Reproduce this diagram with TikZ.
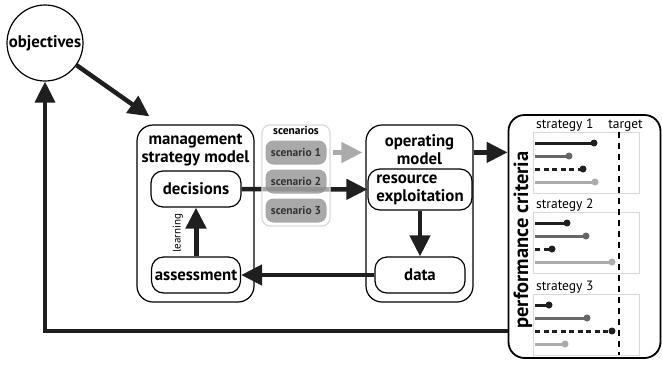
\documentclass[tikz,border=0pt]{standalone}
\usepackage{fontspec}
\setmainfont{PT Sans}
\usetikzlibrary{positioning}
\usetikzlibrary{calc}
\usetikzlibrary{arrows.meta}
\colorlet{line colour}{black!88}
\colorlet{scenario colour}{black!45}
\colorlet{frame colour}{black!15}
\colorlet{mid colour}{black!60}
\colorlet{light colour}{black!33}
\newcommand{\bigbold}{\bfseries\fontsize{16.8}{18}\selectfont}
\newcommand{\scenariofont}{\bfseries\fontsize{11.5}{12}\selectfont}
\newcommand{\strategyfont}{\fontsize{13.5}{15}\selectfont}
\newcommand{\learnfont}{\fontsize{11}{12}\selectfont}
\newcommand{\perffont}{\bfseries\fontsize{20.5}{22}\selectfont}
\tikzset{
    % Big solid heads on every flow arrow
    >={Triangle[length=21pt, width=20pt]},
%
    % Boxes
    outer box/.style={draw, line width=1.2pt, rounded corners=16pt},
    inner box/.style={draw, line width=1.2pt, rounded corners=12pt, font=\bigbold},
    scenario pill/.style={
        fill=scenario colour, fill opacity=0.75, text opacity=1, text=black!80,
        rounded corners=8pt, minimum width=61pt, minimum height=24pt,
        font=\scenariofont},
    % Lines
    flow/.style={color=line colour, line width=4.5pt, ->},
    % The four criteria runs in each strategy panel
    top run/.style={color=line colour, line width=3pt},
    mid run/.style={color=mid colour, line width=3pt},
    dot run/.style={color=line colour, line width=3pt, dash pattern=on 5pt off 3.5pt},
    low run/.style={color=light colour, line width=3pt},
    target line/.style={line width=1.5pt, dash pattern=on 6pt off 5pt},
%
    every node/.style={align=center},
}

\begin{document}
\begin{tikzpicture}[
    x=1pt, y=-1pt,
    panel/.style={draw=frame colour, line width=1pt, inner sep=0,
        minimum width=106pt, minimum height=61pt},
    end dot/.style={circle, fill, draw=none, solid, inner sep=0, minimum size=7pt},
]
\useasboundingbox (0,0) rectangle (662,365);

% Objectives, top left
\node [circle, draw, line width=1.2pt, minimum size=76pt, inner sep=0,
    font=\bigbold] (objectives) at (45,43) {objectives};

% The two models and what sits inside them
\node [outer box, minimum width=117pt, minimum height=177pt] (management) at (195.5,213.5) {};
\node [font=\bigbold] (management title) at (195.5,150) {management\\strategy model};
\node [inner box, minimum width=90pt, minimum height=36pt] (decisions) at (196,189) {decisions};
\node [inner box, minimum width=88pt, minimum height=36pt] (assessment) at (196,275) {assessment};

\node [outer box, minimum width=107pt, minimum height=177pt] (operating) at (419.5,213.5) {};
\node [font=\bigbold] (operating title) at (419.5,150) {operating\\model};
\node [inner box, align=left, minimum width=104pt, minimum height=41pt]
    (resource) at (420,189.5) {resource\\exploitation};
\node [inner box, minimum width=90pt, minimum height=36pt] (data) at (420,275) {data};

% Decisions go to the resource, behind the scenarios
\draw [flow] (decisions) -- (resource);

\node [draw=frame colour, line width=1.2pt, fill=white, fill opacity=0.6,
    rounded corners=8pt, minimum width=68pt, minimum height=101pt]
    (scenarios) at (296,175.5) {};
\node [font=\scenariofont, anchor=north, inner sep=2pt] (scenarios label) at (scenarios.north) {scenarios};
\foreach \yy [count=\n] in {152.5, 181.5, 210.5}
    \node [scenario pill] (scenario \n) at (296,\yy) {scenario \n};

\draw [flow, color=light colour]
    ([xshift=6pt]scenario 1.east) -- ([xshift=-3pt]scenario 1 -| operating.west);
\draw [flow] (objectives) -- ([shift={(13,-8)}]management.north west);
\draw [flow] (resource) -- (data);
\draw [flow] (data) -- (assessment);
\draw [flow, line width=5pt] (assessment) -- (decisions);
\node [rotate=90, font=\learnfont] (learning) at (178,233) {learning};

% Performance criteria, one panel per strategy
\node [draw, line width=1.8pt, rounded corners=16pt,
    minimum width=152pt, minimum height=243pt] (performance) at (584.5,236.5) {};
\node [rotate=90, font=\perffont] (performance title) at (523,240) {performance criteria};

\foreach \ptop/\ea/\eb/\ec/\ed [count=\n] in {
    132/594/569/583/595, 212/567/586/552/612, 294/549/587/612/565}
{
    \node [panel, anchor=north west] (panel\n) at (533,\ptop) {};
    \node [font=\strategyfont, anchor=base west, inner sep=0]
        (strategy\n) at ($(panel\n.north west)+(3,-4)$) {strategy \n};
    \foreach \off/\xend/\kind in {11/\ea/top run, 24/\eb/mid run, 37/\ec/dot run, 50/\ed/low run}
        \draw [\kind] ($(panel\n.north west)+(2,\off)$) -- (\xend,\ptop+\off)
            node [end dot] {};
}
\node [font=\strategyfont, anchor=base east, inner sep=0] (target) at (643,128) {target};
\draw [target line] (619,132) -- (619,355);

% Back to the objectives, and on to the criteria
\coordinate (op out) at ([yshift=-28pt]operating.north east);
\draw [flow] (op out) -- (op out -| performance.west);
\coordinate (back out) at ([yshift=28pt]performance.south west);
\draw [flow, line width=3.5pt] (back out) -| (objectives.south);

\end{tikzpicture}
\end{document}
